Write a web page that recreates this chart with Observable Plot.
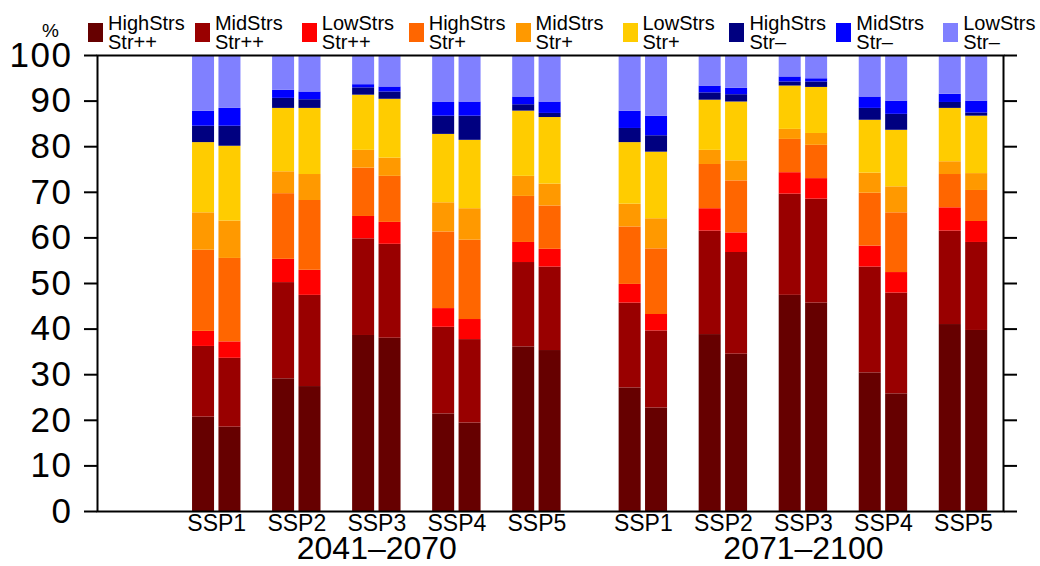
<!DOCTYPE html>
<html><head><meta charset="utf-8">
<script src="https://cdn.jsdelivr.net/npm/d3@7"></script>
<script src="https://cdn.jsdelivr.net/npm/@observablehq/plot@0.6"></script>
<style>
body{margin:0;background:#fff;font-family:"Liberation Sans",Arial,sans-serif;}
#wrap{position:relative;width:1040px;height:566px;}
#legend{position:absolute;left:0;top:0;width:1040px;height:55px;}
.item{position:absolute;top:0;height:55px;}
.sw{position:absolute;top:23px;left:0;width:15px;height:19px;}
.lab{position:absolute;left:20px;top:14px;font-size:20px;line-height:19px;white-space:nowrap;color:#000;}
</style></head><body><div id="wrap"><div id="chart"></div><div id="legend"></div></div>
<script>
// ---------- data ----------
const periods = ["2041–2070", "2071–2100"];
const ssps = ["SSP1", "SSP2", "SSP3", "SSP4", "SSP5"];
const members = ["a", "b"];
const seriesNames = ["HighStrs Str++", "MidStrs Str++", "LowStrs Str++",
                     "HighStrs Str+", "MidStrs Str+", "LowStrs Str+",
                     "HighStrs Str–", "MidStrs Str–", "LowStrs Str–"];
const legendLine1 = ["HighStrs", "MidStrs", "LowStrs", "HighStrs", "MidStrs", "LowStrs", "HighStrs", "MidStrs", "LowStrs"];
const legendLine2 = ["Str++", "Str++", "Str++", "Str+", "Str+", "Str+", "Str–", "Str–", "Str–"];
const seriesColors = ["#660000", "#990000", "#ff0000", "#ff6600", "#ff9900", "#ffcc00", "#000080", "#0000ff", "#8080ff"];
const yTicks = [0, 10, 20, 30, 40, 50, 60, 70, 80, 90, 100];

// values (%) per bar, ordered period -> SSP -> member
const highStrsStrPP = [20.7, 18.5, 29.1, 27.4, 38.6, 38.0, 21.4, 19.4, 36.1, 35.3, 27.1, 22.7, 38.8, 34.5, 47.4, 45.7, 30.4, 25.8, 41.0, 39.7];
const midStrsStrPP  = [15.5, 15.1, 21.1, 20.0, 21.2, 20.6, 19.0, 18.3, 18.5, 18.3, 18.6, 16.9, 22.7, 22.3, 22.2, 22.8, 23.2, 22.1, 20.5, 19.3];
const lowStrsStrPP  = [3.3, 3.6, 5.1, 5.5, 4.9, 4.8, 4.1, 4.4, 4.4, 3.9, 4.1, 3.6, 4.9, 4.3, 4.7, 4.5, 4.6, 4.5, 5.1, 4.6];
const highStrsStrP  = [17.8, 18.3, 14.4, 15.3, 10.6, 10.1, 16.8, 17.4, 10.1, 9.5, 12.6, 14.4, 9.7, 11.4, 7.3, 7.3, 11.6, 13.1, 7.3, 6.8];
const midStrsStrP   = [8.2, 8.2, 4.8, 5.7, 3.9, 4.0, 6.4, 6.9, 4.4, 4.8, 5.0, 6.6, 3.1, 4.4, 2.2, 2.6, 4.4, 5.7, 2.8, 3.7];
const lowStrsStrP   = [15.4, 16.4, 13.9, 14.5, 12.1, 12.9, 15.0, 15.0, 14.3, 14.6, 13.5, 14.6, 11.0, 12.9, 9.5, 10.1, 11.6, 12.4, 11.7, 12.6];
const highStrsStrM  = [3.6, 4.4, 2.2, 1.9, 1.6, 1.6, 4.0, 5.3, 1.4, 0.9, 3.1, 3.6, 1.6, 1.6, 0.9, 1.2, 2.6, 3.5, 1.3, 0.7];
const midStrsStrM   = [3.3, 3.9, 1.8, 1.7, 0.7, 1.1, 3.0, 3.1, 1.7, 2.5, 3.8, 4.3, 1.5, 1.4, 1.1, 0.7, 2.5, 2.9, 1.8, 2.6];
const lowStrsStrM   = [12.2, 11.6, 7.6, 8.0, 6.4, 6.9, 10.3, 10.2, 9.1, 10.2, 12.2, 13.3, 6.7, 7.2, 4.7, 5.1, 9.1, 10.0, 8.5, 10.0];

const seriesValues = [highStrsStrPP, midStrsStrPP, lowStrsStrPP, highStrsStrP, midStrsStrP, lowStrsStrP, highStrsStrM, midStrsStrM, lowStrsStrM];

// ---------- layout helpers ----------
const periodShift = 5.33;   // gap between the two period blocks (in group units)
const memberOffset = 0.165;
const halfWidth = 0.1375;
const groupPos = (p, i) => i + p * periodShift;

const rows = [];
const groups = [];
periods.forEach((period, p) => {
  ssps.forEach((ssp, i) => {
    groups.push({ssp, period, pos: groupPos(p, i)});
    members.forEach((m, k) => {
      const b = p * 10 + i * 2 + k;
      const cx = groupPos(p, i) + (k === 0 ? -memberOffset : memberOffset);
      let acc = 0;
      seriesNames.forEach((s, si) => {
        const v = seriesValues[si][b];
        rows.push({series: s, period, ssp, member: m, x1: cx - halfWidth, x2: cx + halfWidth, y1: acc, y2: acc + v});
        acc += v;
      });
    });
  });
});
const periodLabels = periods.map((period, p) => ({period, pos: groupPos(p, 2)}));

const font = '"Liberation Sans", Arial, sans-serif';
const chart = Plot.plot({
  width: 1040,
  height: 566,
  marginTop: 55,
  marginBottom: 55,
  marginLeft: 97,
  marginRight: 37,
  style: {fontFamily: font, background: "#fff", color: "#000", overflow: "visible"},
  x: {domain: [-1.49, 9.83], axis: null},
  y: {domain: [0, 100], axis: null},
  color: {domain: seriesNames, range: seriesColors},
  marks: [
    Plot.rect(rows, {x1: "x1", x2: "x2", y1: "y1", y2: "y2", fill: "series"}),
    Plot.axisY({ticks: yTicks, tickSize: 13, tickPadding: 12, fontSize: 35, strokeWidth: 2, label: null, fill: "#000"}),
    Plot.axisY({anchor: "right", ticks: yTicks, tickSize: 13, strokeWidth: 2, tickFormat: () => "", label: null}),
    Plot.frame({stroke: "#000", strokeWidth: 2}),
    Plot.text(groups, {x: "pos", text: "ssp", frameAnchor: "bottom", lineAnchor: "top", dy: 3, fontSize: 23, fill: "#000"}),
    Plot.text(periodLabels, {x: "pos", text: "period", frameAnchor: "bottom", lineAnchor: "top", dy: 25, fontSize: 32, fill: "#000"}),
    Plot.text(["%"], {text: d => d, frameAnchor: "top-left", textAnchor: "middle", dx: -47, dy: -19, lineAnchor: "bottom", fontSize: 19, fill: "#000"})
  ]
});
d3.select(chart).selectAll('g[aria-label="y-axis tick label"] text').attr("letter-spacing", "1.5px");
document.getElementById("chart").appendChild(chart);

// ---------- legend ----------
const legend = d3.select("#legend");
seriesNames.forEach((s, k) => {
  const item = legend.append("div").attr("class", "item").style("left", (88 + k * 106.9) + "px");
  item.append("div").attr("class", "sw").style("background", seriesColors[k]);
  item.append("div").attr("class", "lab").html(legendLine1[k] + "<br>" + legendLine2[k]);
});
</script></body></html>
